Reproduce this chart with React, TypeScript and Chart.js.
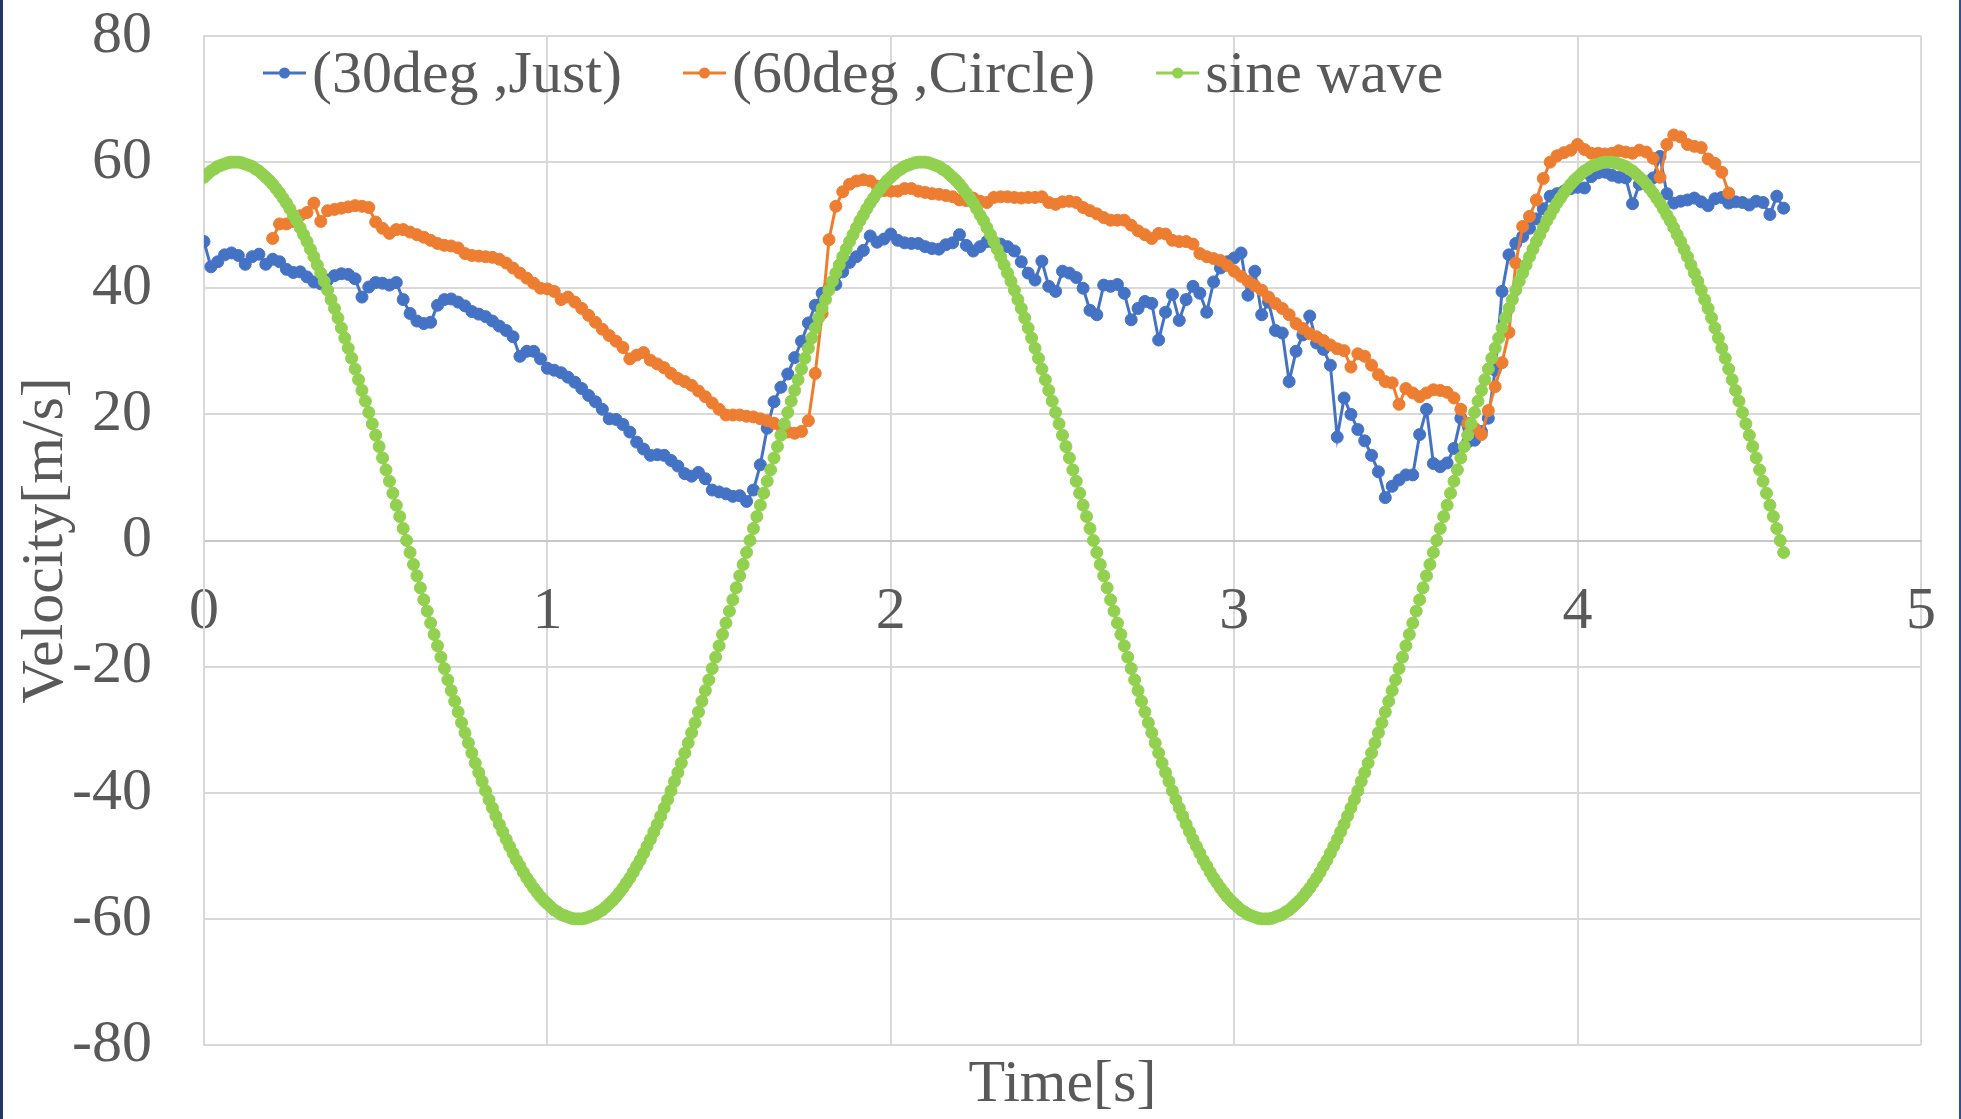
import React, { useEffect, useRef } from "react";
import { Chart, registerables } from "chart.js";

Chart.register(...registerables);

const FONT = "'Liberation Serif', 'Times New Roman', serif";
const TEXT_COLOR = "#595959";
const BLUE = "#4472C4";
const ORANGE = "#ED7D31";
const GREEN = "#92D050";

const seriesLabels = ["(30deg ,Just)", "(60deg ,Circle)", "sine wave"];
const xTicks = [0, 1, 2, 3, 4, 5];
const yTicks = [-80, -60, -40, -20, 0, 20, 40, 60, 80];

// (30deg ,Just): sampled every 0.02 s starting at 0.00 s
const blueStart = 0;
const blueStep = 0.02;
const blueVelocity = [
  47.4, 43.4, 44.2, 45.3, 45.6, 45.2, 43.8, 45.0, 45.4, 43.8,
  44.6, 44.2, 43.0, 42.5, 42.6, 41.8, 41.0, 40.7, 41.3, 42.0,
  42.3, 42.2, 41.5, 38.6, 40.2, 40.9, 40.8, 40.5, 40.9, 38.2,
  36.0, 34.8, 34.4, 34.6, 37.3, 38.2, 38.3, 37.8, 37.2, 36.3,
  35.9, 35.5, 34.8, 34.0, 33.3, 32.3, 29.2, 30.0, 30.0, 28.8,
  27.3, 27.0, 26.6, 25.9, 25.1, 24.1, 23.0, 22.0, 20.8, 19.3,
  19.2, 18.4, 17.2, 15.6, 14.5, 13.5, 13.6, 13.5, 12.7, 11.8,
  10.6, 10.2, 10.8, 9.8, 8.0, 7.7, 7.4, 7.0, 7.1, 6.2,
  8.0, 12.0, 17.8, 22.0, 24.3, 26.4, 29.0, 31.6, 34.5, 37.3,
  39.2, 40.0, 40.6, 42.6, 44.1, 45.0, 46.0, 48.3, 47.3, 47.8,
  48.6, 47.6, 47.2, 47.1, 47.1, 46.6, 46.3, 46.2, 46.9, 47.2,
  48.5, 46.8, 45.9, 46.6, 47.4, 47.2, 47.0, 46.6, 45.9, 44.2,
  42.4, 41.3, 44.3, 40.3, 39.5, 42.7, 42.4, 41.7, 40.0, 36.5,
  35.8, 40.5, 40.3, 40.6, 39.2, 35.0, 36.8, 37.9, 37.6, 31.8,
  36.2, 39.0, 34.9, 38.2, 40.3, 39.2, 36.2, 41.0, 43.2, 44.2,
  44.8, 45.6, 38.9, 42.7, 35.8, 37.8, 33.3, 32.9, 25.2, 30.0,
  32.6, 35.6, 31.3, 30.3, 27.8, 16.4, 22.6, 20.0, 17.6, 15.8,
  13.5, 10.9, 6.8, 8.6, 9.6, 10.4, 10.4, 16.8, 20.8, 12.2,
  11.7, 12.3, 14.6, 19.4, 15.6, 15.9, 17.3, 19.4, 27.0, 39.5,
  45.3, 47.1, 48.2, 49.5, 51.0, 52.6, 54.6, 55.0, 55.4, 55.8,
  56.0, 55.9, 57.7, 58.3, 58.4, 57.9, 57.6, 57.5, 53.4, 56.5,
  56.8, 57.5, 60.9, 55.0, 53.5, 53.8, 54.0, 54.3, 53.7, 53.1,
  54.2, 54.4, 53.5, 53.7, 53.6, 53.2, 53.8, 53.6, 51.7, 54.6,
  52.7,
];

// (60deg ,Circle): sampled every 0.02 s starting at 0.20 s
const orangeStart = 0.2;
const orangeStep = 0.02;
const orangeVelocity = [
  47.9, 50.2, 50.2, 50.6, 51.5, 52.0, 53.5, 50.6, 52.3, 52.5,
  52.7, 52.9, 53.1, 53.0, 52.8, 50.5, 49.5, 48.7, 49.3, 49.3,
  48.9, 48.5, 48.1, 47.6, 47.1, 46.8, 46.7, 46.4, 45.5, 45.2,
  45.1, 45.0, 44.9, 44.6, 44.0, 43.2, 42.4, 41.6, 40.8, 40.0,
  39.9, 39.5, 38.2, 38.6, 37.8, 36.8, 35.7, 34.6, 33.5, 32.5,
  31.6, 30.6, 28.8, 29.4, 29.8, 28.6, 28.0, 27.4, 26.5, 25.7,
  25.2, 24.6, 23.7, 22.8, 21.8, 20.8, 19.9, 19.9, 19.9, 19.7,
  19.6, 19.3, 19.0, 18.6, 18.1, 17.2, 17.0, 17.3, 19.0, 26.5,
  36.0, 47.7, 53.0, 55.3, 56.5, 57.0, 57.2, 57.0, 56.2, 55.5,
  55.4, 55.4, 55.8, 55.8, 55.4, 55.2, 55.0, 54.9, 54.7, 54.5,
  54.0, 53.9, 54.3, 53.8, 53.6, 54.4, 54.5, 54.5, 54.4, 54.3,
  54.4, 54.4, 54.5, 53.6, 53.3, 53.7, 53.8, 53.6, 52.8, 52.3,
  51.8, 51.2, 50.8, 50.8, 50.8, 50.0, 49.1, 48.5, 47.9, 48.7,
  48.6, 47.6, 47.4, 47.4, 47.0, 45.5, 45.0, 44.7, 44.4, 43.6,
  42.7, 41.9, 41.1, 40.4, 39.7, 38.6, 37.6, 36.8, 35.8, 34.4,
  33.6, 32.8, 32.3, 31.7, 31.0, 30.4, 30.1, 27.5, 29.6, 29.2,
  27.8, 26.3, 25.2, 25.0, 21.6, 24.1, 23.4, 22.8, 23.4, 23.9,
  23.8, 23.5, 22.6, 20.8, 18.6, 17.8, 16.8, 20.6, 24.4, 28.2,
  33.0, 44.0, 49.8, 51.4, 54.0, 57.4, 60.0, 61.0, 61.5, 61.9,
  62.8, 62.0, 61.4, 61.4, 61.3, 61.4, 61.8, 61.6, 61.4, 61.9,
  61.6, 60.6, 57.6, 62.8, 64.3, 64.0, 62.8, 62.5, 62.3, 60.5,
  59.8, 58.4, 55.1,
];

// sine wave: sampled every 0.01 s starting at 0.00 s
const sineStart = 0;
const sineStep = 0.01;
const sineVelocity = [
  // 0.00 - 0.09
  57.6, 58.1, 58.6, 58.9, 59.3, 59.5, 59.7, 59.9, 60.0, 60.0,
  // 0.10 - 0.59
  60.0, 59.9, 59.7, 59.5, 59.3, 58.9, 58.6, 58.1, 57.6, 57.1,
  56.5, 55.8, 55.1, 54.3, 53.5, 52.6, 51.6, 50.7, 49.6, 48.5,
  47.4, 46.2, 45.0, 43.7, 42.4, 41.1, 39.7, 38.2, 36.8, 35.3,
  33.7, 32.1, 30.5, 28.9, 27.2, 25.5, 23.8, 22.1, 20.3, 18.5,
  16.7, 14.9, 13.1, 11.2, 9.4, 7.5, 5.6, 3.8, 1.9, 0.0,
  // 0.60 - 1.09
  -1.9, -3.8, -5.6, -7.5, -9.4, -11.2, -13.1, -14.9, -16.7, -18.5,
  -20.3, -22.1, -23.8, -25.5, -27.2, -28.9, -30.5, -32.1, -33.7, -35.3,
  -36.8, -38.2, -39.7, -41.1, -42.4, -43.7, -45.0, -46.2, -47.4, -48.5,
  -49.6, -50.7, -51.6, -52.6, -53.5, -54.3, -55.1, -55.8, -56.5, -57.1,
  -57.6, -58.1, -58.6, -58.9, -59.3, -59.5, -59.7, -59.9, -60.0, -60.0,
  // 1.10 - 1.59
  -60.0, -59.9, -59.7, -59.5, -59.3, -58.9, -58.6, -58.1, -57.6, -57.1,
  -56.5, -55.8, -55.1, -54.3, -53.5, -52.6, -51.6, -50.7, -49.6, -48.5,
  -47.4, -46.2, -45.0, -43.7, -42.4, -41.1, -39.7, -38.2, -36.8, -35.3,
  -33.7, -32.1, -30.5, -28.9, -27.2, -25.5, -23.8, -22.1, -20.3, -18.5,
  -16.7, -14.9, -13.1, -11.2, -9.4, -7.5, -5.6, -3.8, -1.9, 0.0,
  // 1.60 - 2.09
  1.9, 3.8, 5.6, 7.5, 9.4, 11.2, 13.1, 14.9, 16.7, 18.5,
  20.3, 22.1, 23.8, 25.5, 27.2, 28.9, 30.5, 32.1, 33.7, 35.3,
  36.8, 38.2, 39.7, 41.1, 42.4, 43.7, 45.0, 46.2, 47.4, 48.5,
  49.6, 50.7, 51.6, 52.6, 53.5, 54.3, 55.1, 55.8, 56.5, 57.1,
  57.6, 58.1, 58.6, 58.9, 59.3, 59.5, 59.7, 59.9, 60.0, 60.0,
  // 2.10 - 2.59
  60.0, 59.9, 59.7, 59.5, 59.3, 58.9, 58.6, 58.1, 57.6, 57.1,
  56.5, 55.8, 55.1, 54.3, 53.5, 52.6, 51.6, 50.7, 49.6, 48.5,
  47.4, 46.2, 45.0, 43.7, 42.4, 41.1, 39.7, 38.2, 36.8, 35.3,
  33.7, 32.1, 30.5, 28.9, 27.2, 25.5, 23.8, 22.1, 20.3, 18.5,
  16.7, 14.9, 13.1, 11.2, 9.4, 7.5, 5.6, 3.8, 1.9, 0.0,
  // 2.60 - 3.09
  -1.9, -3.8, -5.6, -7.5, -9.4, -11.2, -13.1, -14.9, -16.7, -18.5,
  -20.3, -22.1, -23.8, -25.5, -27.2, -28.9, -30.5, -32.1, -33.7, -35.3,
  -36.8, -38.2, -39.7, -41.1, -42.4, -43.7, -45.0, -46.2, -47.4, -48.5,
  -49.6, -50.7, -51.6, -52.6, -53.5, -54.3, -55.1, -55.8, -56.5, -57.1,
  -57.6, -58.1, -58.6, -58.9, -59.3, -59.5, -59.7, -59.9, -60.0, -60.0,
  // 3.10 - 3.59
  -60.0, -59.9, -59.7, -59.5, -59.3, -58.9, -58.6, -58.1, -57.6, -57.1,
  -56.5, -55.8, -55.1, -54.3, -53.5, -52.6, -51.6, -50.7, -49.6, -48.5,
  -47.4, -46.2, -45.0, -43.7, -42.4, -41.1, -39.7, -38.2, -36.8, -35.3,
  -33.7, -32.1, -30.5, -28.9, -27.2, -25.5, -23.8, -22.1, -20.3, -18.5,
  -16.7, -14.9, -13.1, -11.2, -9.4, -7.5, -5.6, -3.8, -1.9, 0.0,
  // 3.60 - 4.09
  1.9, 3.8, 5.6, 7.5, 9.4, 11.2, 13.1, 14.9, 16.7, 18.5,
  20.3, 22.1, 23.8, 25.5, 27.2, 28.9, 30.5, 32.1, 33.7, 35.3,
  36.8, 38.2, 39.7, 41.1, 42.4, 43.7, 45.0, 46.2, 47.4, 48.5,
  49.6, 50.7, 51.6, 52.6, 53.5, 54.3, 55.1, 55.8, 56.5, 57.1,
  57.6, 58.1, 58.6, 58.9, 59.3, 59.5, 59.7, 59.9, 60.0, 60.0,
  // 4.10 - 4.59
  60.0, 59.9, 59.7, 59.5, 59.3, 58.9, 58.6, 58.1, 57.6, 57.1,
  56.5, 55.8, 55.1, 54.3, 53.5, 52.6, 51.6, 50.7, 49.6, 48.5,
  47.4, 46.2, 45.0, 43.7, 42.4, 41.1, 39.7, 38.2, 36.8, 35.3,
  33.7, 32.1, 30.5, 28.9, 27.2, 25.5, 23.8, 22.1, 20.3, 18.5,
  16.7, 14.9, 13.1, 11.2, 9.4, 7.5, 5.6, 3.8, 1.9, 0.0,
  // 4.60
  -1.9,
];

const toPoints = (values: number[], start: number, step: number) =>
  values.map((v, i) => ({ x: Math.round((start + i * step) * 1000) / 1000, y: v }));

const W = 1961;
const H = 1119;
const POINT_R = 6;

const excelLegend = {
  id: "excelLegend",
  afterDatasetsDraw(chart: any) {
    const ctx = chart.ctx as CanvasRenderingContext2D;
    ctx.save();
    ctx.font = `60px ${FONT}`;
    ctx.textBaseline = "alphabetic";
    ctx.textAlign = "left";
    let x = 263;
    const lineY = 73;
    const baseY = 92;
    chart.data.datasets.forEach((ds: any) => {
      const c = ds.borderColor;
      ctx.strokeStyle = c;
      ctx.lineWidth = 3;
      ctx.beginPath();
      ctx.moveTo(x, lineY);
      ctx.lineTo(x + 43, lineY);
      ctx.stroke();
      ctx.fillStyle = c;
      ctx.beginPath();
      ctx.arc(x + 21.5, lineY, 5.5, 0, Math.PI * 2);
      ctx.fill();
      ctx.fillStyle = TEXT_COLOR;
      ctx.fillText(ds.label, x + 49, baseY);
      x += 49 + ctx.measureText(ds.label).width + 61;
    });
    ctx.restore();
  },
};

export default function App() {
  const canvasRef = useRef<HTMLCanvasElement | null>(null);

  useEffect(() => {
    if (!canvasRef.current) return;
    const mk = (label: string, color: string, pts: any[], order: number) => ({
      label,
      data: pts,
      borderColor: color,
      backgroundColor: color,
      pointBackgroundColor: color,
      pointBorderColor: color,
      pointRadius: POINT_R,
      pointHoverRadius: POINT_R,
      pointBorderWidth: 1,
      borderWidth: 3,
      tension: 0,
      order,
      xAxisID: "x",
      yAxisID: "y",
    });
    const chart = new Chart(canvasRef.current, {
      type: "line",
      data: {
        datasets: [
          mk(seriesLabels[0], BLUE, toPoints(blueVelocity, blueStart, blueStep), 3),
          mk(seriesLabels[1], ORANGE, toPoints(orangeVelocity, orangeStart, orangeStep), 2),
          mk(seriesLabels[2], GREEN, toPoints(sineVelocity, sineStart, sineStep), 1),
        ],
      },
      options: {
        animation: false,
        responsive: false,
        devicePixelRatio: 1,
        elements: {
          point: { radius: POINT_R, borderWidth: 1 },
          line: { borderWidth: 3, tension: 0 },
        },
        layout: { padding: { top: 36, right: 40, bottom: 0, left: 0 } },
        plugins: {
          legend: { display: false },
          tooltip: { enabled: false },
        },
        scales: {
          x: {
            type: "linear",
            position: { y: 0 } as any,
            min: xTicks[0],
            max: xTicks[xTicks.length - 1],
            afterBuildTicks: (scale: any) => {
              scale.ticks = xTicks.map((v) => ({ value: v }));
            },
            ticks: {
              color: TEXT_COLOR,
              font: { family: FONT, size: 60, lineHeight: 1.2 },
              padding: 36,
              maxRotation: 0,
              autoSkip: false,
            },
            grid: { color: "#d9d9d9", lineWidth: 2, drawTicks: false },
            border: { color: "#c6c6c6", width: 2 },
            afterFit: (scale: any) => {
              scale.paddingLeft = 0;
              scale.paddingRight = 0;
              scale.paddingTop = 0;
              scale.paddingBottom = 0;
            },
          },
          x2: {
            type: "linear",
            position: "bottom",
            min: 0,
            max: 5,
            ticks: { display: false },
            grid: { display: false },
            border: { display: false },
            title: {
              display: true,
              text: "Time[s]",
              color: TEXT_COLOR,
              font: { family: FONT, size: 60, lineHeight: 1 },
              padding: { top: 10, bottom: 4 },
            },
            afterFit: (scale: any) => {
              scale.height = 74;
              scale.paddingLeft = 0;
              scale.paddingRight = 0;
            },
          },
          y: {
            type: "linear",
            position: "left",
            min: yTicks[0],
            max: yTicks[yTicks.length - 1],
            afterBuildTicks: (scale: any) => {
              scale.ticks = yTicks.map((v) => ({ value: v }));
            },
            ticks: {
              color: TEXT_COLOR,
              font: { family: FONT, size: 60, lineHeight: 1.2 },
              padding: 52,
              autoSkip: false,
            },
            grid: { color: "#d9d9d9", lineWidth: 2, drawTicks: false },
            border: { color: "#d9d9d9", width: 2 },
            title: {
              display: true,
              text: "Velocity[m/s]",
              color: TEXT_COLOR,
              font: { family: FONT, size: 60, lineHeight: 1 },
              padding: { top: 16, bottom: 0 },
            },
            afterFit: (scale: any) => {
              scale.width = 204;
              scale.paddingTop = 0;
              scale.paddingBottom = 0;
            },
          },
        },
      } as any,
      plugins: [excelLegend],
    });
    return () => chart.destroy();
  }, []);

  return (
    <div style={{ position: "absolute", left: 0, top: 0, width: W, height: H, background: "#ffffff", overflow: "hidden" }}>
      <canvas ref={canvasRef} width={W} height={H} style={{ display: "block", width: W, height: H }} />
      <div style={{ position: "absolute", left: 0, top: 0, width: 3, height: H, background: "#203864" }} />
      <div style={{ position: "absolute", left: W - 2, top: 0, width: 2, height: H, background: "#2E5090" }} />
    </div>
  );
}
